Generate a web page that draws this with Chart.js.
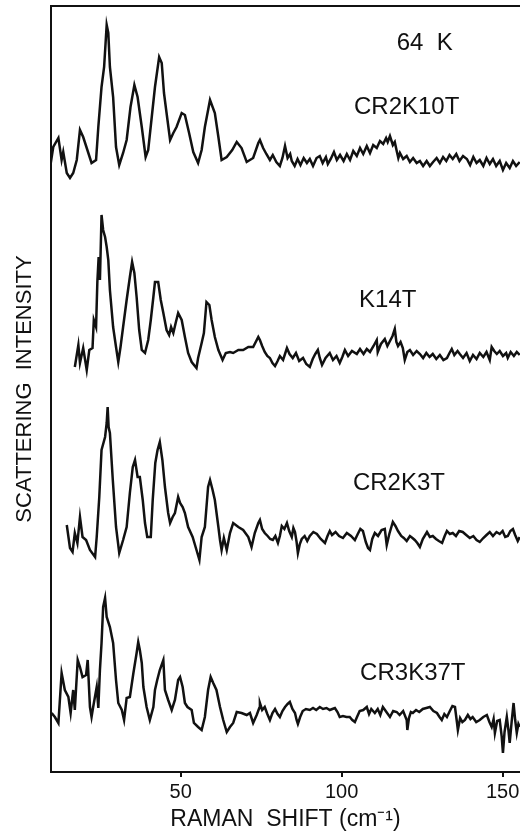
<!DOCTYPE html>
<html>
<head>
<meta charset="utf-8">
<script src="https://cdn.jsdelivr.net/npm/chart.js@4"></script>
<style>
  body { margin: 0; background: #fff; }
  #wrap { width: 520px; height: 832px; position: relative; }
</style>
</head>
<body>
<div id="wrap"><canvas id="ramanChart"></canvas></div>
<script>
// Raman spectra at 64 K, stacked (shift in cm-1, intensity in arbitrary units incl. offset)
const cr2k10t = [
  [9.2,600],[10.4,625],[12.0,634],[13.0,612],[13.5,620],[14.6,599],[15.6,594],[16.6,599],[17.7,612],[18.7,642],
  [19.7,635],[21.0,622],[22.3,609],[23.7,612],[24.4,645],[25.4,685],[26.2,705],[27.0,747],[27.5,739],[28.0,705],
  [29.0,675],[29.9,625],[30.9,607],[32.1,619],[33.2,632],[34.4,665],[35.6,687],[36.6,675],[37.9,645],[39.1,615],
  [39.9,622],[41.0,655],[42.0,685],[43.3,715],[44.1,709],[44.8,679],[45.6,659],[46.7,632],[47.7,639],[48.7,645],
  [50.3,659],[51.3,657],[52.6,639],[53.9,620],[55.4,609],[56.5,622],[57.5,645],[59.1,672],[60.6,659],[61.7,635],
  [62.7,612],[64.3,615],[66.0,622],[67.4,630],[68.9,624],[70.5,610],[72.5,614],[74.1,629],
  [74.6,632],[75.6,624],[76.6,618],[77.7,612],[78.6,617],[79.7,610],[80.8,606],[81.6,614],[82.4,626],[83.2,614],
  [84.0,618],[84.5,611],[85.4,606],[86.3,613],[87.2,607],[88.2,614],[89.2,609],[90.1,613],[91.1,606],[92.2,614],
  [93.2,616],[94.1,609],[95.1,615],[95.7,608],[96.6,613],[97.6,620],[98.5,612],[99.5,617],[100.6,611],[101.6,618],
  [102.6,612],[103.6,621],[104.7,616],[105.7,624],[106.7,618],[107.8,626],[108.8,619],[109.8,627],[110.9,624],[111.9,631],
  [112.9,628],[113.8,634],[114.3,630],[115.0,636],[115.9,627],[116.5,630],[117.1,621],[117.6,614],[118.1,619],[119.1,613],
  [120.2,616],[121.2,610],[122.2,614],[123.3,609],[124.3,611],[125.3,606],[126.4,611],[127.4,606],[128.4,610],[129.5,614],
  [130.5,609],[131.5,615],[132.5,611],[133.5,617],[134.5,613],[135.6,618],[136.6,611],[137.7,616],[138.9,613],[139.9,607],
  [140.9,615],[141.9,609],[142.9,612],[144.0,606],[145.0,614],[146.0,608],[147.0,613],[148.0,606],[149.1,611],[150.1,602],
  [151.1,609],[152.2,604],[153.2,611],[154.2,606],[155.3,610]
];

const k14t = [
  [17.1,405],[18.2,427],[18.7,409],[19.7,424],[20.8,402],[21.6,422],[22.6,424],[23.0,452],[23.7,445],[24.1,490],
  [24.5,515],[24.9,492],[25.4,557],[25.9,542],[26.5,535],[27.0,525],[27.5,512],[28.0,482],[29.0,445],[29.9,425],
  [30.6,410],[31.3,425],[32.1,445],[33.2,472],[34.2,495],[34.9,510],[35.6,499],[36.3,475],[37.1,442],[37.9,422],
  [38.9,419],[39.9,432],[40.7,452],[41.5,475],[42.0,490],[43.0,490],[43.8,472],[44.6,459],[45.6,442],[46.4,437],
  [47.0,445],[47.7,439],[48.5,450],[49.2,459],[50.3,452],[51.3,435],[52.3,419],[53.4,410],[54.9,404],[55.4,414],
  [56.5,429],[57.2,439],[58.0,470],[58.9,467],[59.6,452],[60.6,435],[61.7,422],[63.0,412],[64.0,419],[65.3,420],
  [66.3,419],[67.9,422],[69.4,422],[71.0,425],[72.5,425],[74.1,435],
  [74.6,432],[75.3,426],[76.1,420],[76.9,416],[77.7,414],[78.5,409],[79.3,406],[80.1,411],[80.8,416],[81.8,412],
  [82.6,420],[83.0,424],[83.8,418],[84.8,414],[85.8,419],[86.8,411],[88.0,414],[89.0,408],[90.1,405],[91.0,413],
  [91.8,418],[92.6,422],[93.2,414],[93.9,407],[95.0,414],[96.3,419],[97.3,412],[98.4,416],[99.4,409],[100.2,415],
  [101.0,422],[102.0,416],[103.2,421],[104.7,418],[105.7,423],[106.8,418],[107.8,423],[108.8,420],[109.9,426],[110.9,432],
  [111.2,420],[112.2,428],[113.4,433],[114.2,426],[115.0,431],[115.8,436],[116.5,443],[117.0,430],[117.5,426],[118.3,430],
  [119.0,424],[119.6,412],[120.4,420],[121.2,422],[122.2,417],[123.3,421],[124.3,418],[125.3,414],[126.3,419],[127.3,415],
  [128.3,418],[129.4,413],[130.5,417],[131.6,412],[132.7,414],[133.5,419],[134.2,423],[135.0,417],[136.0,421],[136.7,418],
  [137.7,414],[138.8,419],[139.8,411],[140.8,417],[141.9,413],[142.9,419],[144.0,415],[145.0,420],[146.0,412],[146.6,425],
  [147.4,421],[148.2,418],[149.1,421],[150.1,416],[151.1,419],[151.6,414],[152.5,420],[153.5,416],[154.4,420],[155.3,417]
];

const cr2k3t = [
  [14.6,247],[15.6,224],[16.4,220],[17.1,239],[17.9,229],[18.7,255],[19.5,235],[20.6,232],[21.8,222],[23.4,215],
  [23.9,235],[24.7,275],[25.4,322],[26.5,335],[27.0,349],[27.3,365],[27.6,345],[28.0,339],[28.9,292],[29.9,245],
  [30.9,219],[32.1,232],[33.2,245],[34.2,279],[35.1,305],[35.8,312],[36.6,295],[37.3,295],[38.2,272],[38.9,249],
  [39.6,235],[40.7,235],[41.3,272],[42.1,309],[42.8,322],[43.5,330],[44.3,312],[45.1,285],[46.1,259],[46.7,249],
  [47.5,255],[48.2,259],[49.2,275],[49.8,269],[50.6,265],[51.3,259],[52.3,245],[53.7,235],[54.9,222],[55.8,212],
  [56.5,235],[57.5,245],[58.5,285],[59.1,292],[59.9,282],[60.6,272],[61.7,245],[62.2,232],[62.7,222],[63.4,234],
  [64.3,222],[65.3,239],[66.3,249],[67.9,245],[69.4,242],[71.0,235],[72.0,225],[73.0,239],[74.1,249],
  [74.6,252],[75.3,243],[76.1,239],[77.0,236],[77.8,233],[78.6,232],[79.4,236],[80.2,229],[80.8,236],[81.4,246],
  [82.2,243],[83.0,249],[83.7,241],[84.5,235],[85.0,244],[85.5,240],[86.0,230],[86.4,219],[87.0,228],[87.6,233],
  [88.5,236],[89.3,231],[90.1,236],[91.2,240],[92.3,238],[93.5,233],[94.8,229],[95.6,236],[96.3,241],[97.0,237],
  [98.1,240],[99.2,236],[100.4,234],[101.6,239],[102.9,236],[104.1,232],[105.0,238],[105.8,243],[106.6,241],[107.5,230],
  [108.2,224],[108.8,222],[109.5,233],[110.3,239],[111.3,236],[112.4,242],[113.4,243],[114.0,227],[114.8,238],[115.9,250],
  [116.7,246],[117.5,241],[118.5,236],[119.3,234],[120.2,231],[121.2,236],[122.0,234],[122.7,232],[123.5,229],[124.3,225],
  [125.2,233],[126.5,240],[127.4,235],[128.3,236],[129.3,233],[130.2,231],[131.2,229],[132.0,236],[132.7,241],[133.6,238],
  [134.5,239],[135.5,236],[136.5,241],[137.6,240],[138.7,237],[139.8,234],[140.9,236],[141.9,232],[142.9,230],[144.0,234],
  [145.0,237],[146.0,240],[147.0,236],[148.1,240],[149.1,238],[150.0,241],[150.8,235],[151.6,236],[152.4,241],[153.2,243],
  [153.9,237],[154.7,231],[155.3,235]
];

const cr3k37t = [
  [9.9,59],[10.9,55],[12.0,49],[13.0,99],[14.0,82],[15.1,75],[15.8,59],[16.6,82],[17.1,62],[18.0,112],
  [18.7,105],[19.5,95],[20.6,97],[21.1,112],[21.8,65],[22.3,55],[22.8,65],[23.9,85],[24.4,64],[24.9,102],
  [25.4,129],[25.9,165],[26.5,174],[27.0,155],[28.0,145],[29.0,129],[29.9,92],[30.6,69],[31.7,62],[32.4,52],
  [33.2,74],[34.2,75],[35.3,99],[36.3,119],[36.8,130],[37.3,122],[37.9,109],[38.4,85],[39.4,65],[40.4,52],
  [41.5,65],[42.0,82],[42.7,92],[43.5,102],[44.6,112],[45.1,82],[46.1,72],[47.2,62],[48.2,72],[49.2,92],
  [49.8,95],[50.6,85],[51.3,69],[52.1,65],[53.4,62],[54.1,49],[55.4,45],[56.5,42],[57.5,55],[58.5,82],
  [59.3,95],[60.1,89],[61.1,82],[62.2,65],[63.2,52],[64.3,40],[65.3,45],[66.3,49],[67.4,60],[68.9,59],
  [70.5,57],[71.5,59],[72.5,49],[73.6,57],[74.4,64],
  [74.6,69],[75.3,62],[76.1,65],[76.9,58],[77.7,52],[78.5,59],[79.3,63],[80.1,58],[80.8,55],[81.6,61],
  [82.4,65],[83.2,68],[83.9,70],[84.7,63],[85.5,59],[86.0,52],[86.4,48],[87.1,55],[87.9,61],[88.9,63],
  [90.1,62],[91.1,64],[92.1,62],[93.2,65],[94.2,63],[95.3,64],[96.3,62],[97.1,63],[97.9,64],[98.7,60],
  [99.4,55],[100.4,56],[101.5,55],[102.5,55],[103.3,52],[104.1,50],[104.9,56],[105.6,61],[106.7,62],[107.8,65],
  [108.5,58],[109.2,63],[110.3,59],[111.2,63],[112.0,57],[112.8,65],[113.9,60],[115.0,55],[116.0,61],[117.1,60],
  [118.0,57],[119.1,61],[120.2,52],[120.4,42],[120.9,54],[121.5,60],[122.1,59],[123.1,62],[124.1,60],[125.2,63],
  [126.3,64],[127.4,65],[128.5,61],[129.6,59],[130.4,55],[131.1,52],[131.9,58],[132.7,55],[133.6,61],[134.4,66],
  [135.2,65],[135.8,50],[136.1,42],[136.8,54],[137.5,50],[138.3,52],[139.2,57],[140.0,53],[140.7,55],[141.8,50],
  [142.9,52],[144.0,55],[145.1,57],[145.9,50],[146.6,45],[147.2,53],[147.6,39],[148.3,51],[149.1,52],[149.7,36],
  [150.1,19],[150.6,40],[151.3,55],[151.8,42],[152.2,29],[152.8,50],[153.4,69],[153.9,52],[154.4,39],[154.9,48],
  [155.3,45]
];

const spectra = [cr2k10t, k14t, cr2k3t, cr3k37t];
const sampleNames = ['CR2K10T', 'K14T', 'CR2K3T', 'CR3K37T'];
const nameShift = [120.2, 114.3, 117.8, 122.1];
const nameLevel = [665, 472, 289, 99];
const tempLabel = '64  K';
const tempShift = 125.8;
const tempLevel = 729;
const xTicks = [50, 100, 150];

const ink = '#111';
const font = '"Liberation Sans", Arial, sans-serif';

// draws the frame top and the text labels inside the plot
const plotLabels = {
  id: 'plotLabels',
  afterDraw(chart) {
    const { ctx, chartArea, scales } = chart;
    ctx.save();
    ctx.strokeStyle = ink;
    ctx.lineWidth = 2;
    ctx.beginPath();
    ctx.moveTo(chartArea.left, chartArea.top);
    ctx.lineTo(chartArea.right, chartArea.top);
    ctx.stroke();
    ctx.fillStyle = ink;
    ctx.font = '24px ' + font;
    ctx.textAlign = 'center';
    ctx.textBaseline = 'middle';
    ctx.fillText(tempLabel, scales.x.getPixelForValue(tempShift), scales.y.getPixelForValue(tempLevel));
    sampleNames.forEach((name, i) => {
      ctx.fillText(name, scales.x.getPixelForValue(nameShift[i]), scales.y.getPixelForValue(nameLevel[i]));
    });
    ctx.restore();
  }
};

function createRamanChart() {
  const ctx = document.getElementById('ramanChart').getContext('2d');
  new Chart(ctx, {
    type: 'line',
    data: {
      datasets: spectra.map((s, i) => ({
        label: sampleNames[i],
        data: s.map(p => ({ x: p[0], y: p[1] })),
        borderColor: ink,
        borderWidth: 2.5,
        pointRadius: 0,
        tension: 0,
        fill: false
      }))
    },
    options: {
      responsive: true,
      maintainAspectRatio: false,
      animation: false,
      layout: { padding: { top: 6, left: 0, right: 0, bottom: 0 } },
      plugins: { legend: { display: false }, tooltip: { enabled: false } },
      scales: {
        x: {
          type: 'linear',
          min: 9.7,
          max: 155.4,
          afterBuildTicks: scale => { scale.ticks = xTicks.map(v => ({ value: v })); },
          afterFit: scale => { scale.height = 60; scale.paddingLeft = 0; scale.paddingRight = 0; },
          grid: { drawOnChartArea: false, drawTicks: true, tickLength: 5, color: ink, lineWidth: 2 },
          border: { display: true, color: ink, width: 2 },
          ticks: { color: ink, font: { family: font, size: 20 }, padding: 3, maxRotation: 0 },
          title: {
            display: true,
            text: 'RAMAN  SHIFT (cm\u207B\u00B9)',
            color: ink,
            font: { family: font, size: 23 },
            padding: { top: 0, bottom: -1 }
          }
        },
        y: {
          min: 0,
          max: 766,
          afterFit: scale => { scale.width = 51; scale.paddingTop = 0; scale.paddingBottom = 0; },
          grid: { display: false },
          border: { display: true, color: ink, width: 2 },
          ticks: { display: false },
          title: {
            display: true,
            text: 'SCATTERING  INTENSITY',
            color: ink,
            font: { family: font, size: 22 },
            padding: { top: 12, bottom: 0 }
          }
        }
      }
    },
    plugins: [plotLabels]
  });
}

document.addEventListener('DOMContentLoaded', createRamanChart);
</script>
</body>
</html>
